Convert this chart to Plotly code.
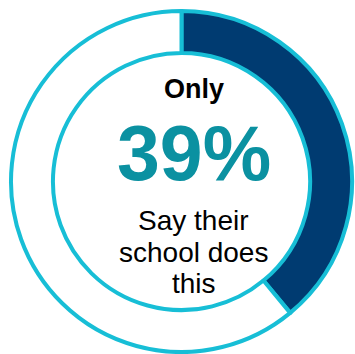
import plotly.graph_objects as go

# Share of respondents
labels = ["Says school does this", "Rest"]
values = [39, 61]
slice_colors = ["#003B71", "#FFFFFF"]

headline = "Only"
stat_label = "39%"
caption_lines = ["Say their", "school does", "this"]

W, H = 355, 354
cx, cy, r = 181.5, 181.5, 170.5  # pixel centre and outer radius

fig = go.Figure(
    go.Pie(
        labels=labels,
        values=values,
        hole=0.754,
        sort=False,
        direction="clockwise",
        rotation=0,
        marker=dict(colors=slice_colors, line=dict(color="#17BED6", width=4)),
        textinfo="none",
        hoverinfo="skip",
        showlegend=False,
        domain=dict(
            x=[(cx - r) / W, (cx + r) / W],
            y=[(H - cy - r) / H, (H - cy + r) / H],
        ),
    )
)

tx = 193.5 / W


def py(y):
    return 1 - y / H


annotations = [
    dict(text=f"<b>{headline}</b>", x=tx, y=py(89), font=dict(size=27, color="#000000")),
    dict(text=f"<b>{stat_label}</b>", x=tx, y=py(152.5), font=dict(size=77, color="#0B91A1")),
]
for line, yy in zip(caption_lines, [220, 252, 283]):
    annotations.append(dict(text=line, x=tx, y=py(yy), font=dict(size=28, color="#000000")))

for a in annotations:
    a.update(xref="paper", yref="paper", showarrow=False, xanchor="center", yanchor="middle")
    a["font"]["family"] = "Liberation Sans, Arial, sans-serif"

fig.update_layout(
    width=W,
    height=H,
    margin=dict(l=0, r=0, t=0, b=0),
    paper_bgcolor="white",
    plot_bgcolor="white",
    annotations=annotations,
)

fig.write_html("out.html")
